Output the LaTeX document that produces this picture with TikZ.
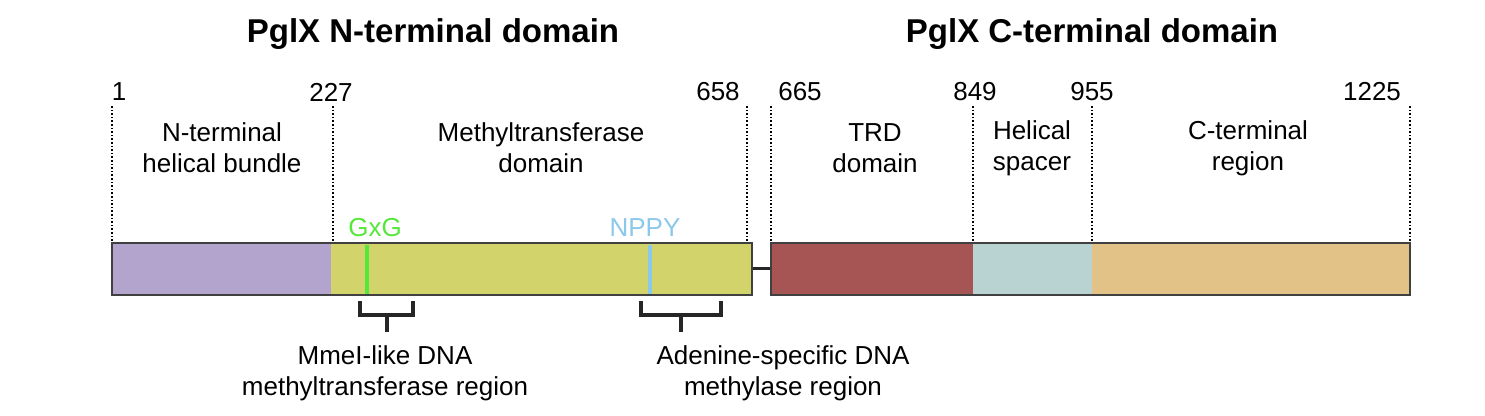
\documentclass[tikz,border=0pt]{standalone}
\usepackage{fontspec}
\setmainfont{Liberation Sans}
\begin{document}
\begin{tikzpicture}[x=1pt,y=-1pt,
  lab/.style={font=\fontsize{26}{31}\selectfont,align=center,inner sep=0pt},
  ttl/.style={font=\bfseries\fontsize{33}{38}\selectfont,inner sep=0pt},
  seg/.style={draw=black!75,line width=1.5pt},
  dsh/.style={dotted,line width=1.6pt},
  brk/.style={line width=3.5pt,black!85}]
\useasboundingbox (0,0) rectangle (1485,415);
\node[ttl] (t1) at (433,34) {PglX N-terminal domain};
\node[ttl] (t2) at (1092,34) {PglX C-terminal domain};
% numbers
\node[lab] (n1) at (119,92) {1};
\node[lab] (n227) at (331,92) {227};
\node[lab] (n658) at (718,92) {658};
\node[lab] (n665) at (800,92) {665};
\node[lab] (n849) at (975,92) {849};
\node[lab] (n955) at (1092,92) {955};
\node[lab] (n1225) at (1372,92) {1225};
% dashed
\foreach \x in {112,333,747,771,973,1092,1410}{\draw[dsh] (\x,106) -- (\x,242);}
% region labels
\node[lab] (r1) at (222,148) {N-terminal\\helical bundle};
\node[lab] (r2) at (541,148) {Methyltransferase\\domain};
\node[lab] (r3) at (875,148) {TRD\\domain};
\node[lab] (r4) at (1032,148) {Helical\\spacer};
\node[lab] (r5) at (1248,148) {C-terminal\\region};
% linker
\draw[line width=3pt,black!85] (752,268) -- (771,268);
% bars
\fill[fill={rgb,255:red,179;green,164;blue,206}] (112,243) rectangle (331,295);
\fill[fill={rgb,255:red,211;green,211;blue,108}] (331,243) rectangle (752,295);
\draw[seg] (112,243) rectangle (752,295);
\fill[fill={rgb,255:red,166;green,84;blue,84}] (771,243) rectangle (973,295);
\fill[fill={rgb,255:red,185;green,211;blue,211}] (973,243) rectangle (1092,295);
\fill[fill={rgb,255:red,226;green,194;blue,134}] (1092,243) rectangle (1410,295);
\draw[seg] (771,243) rectangle (1410,295);
% motifs
\draw[line width=3.5pt,color={rgb,255:red,85;green,232;blue,58}] (367,244.5) -- (367,293.5);
\draw[line width=3.5pt,color={rgb,255:red,140;green,200;blue,234}] (650,244.5) -- (650,293.5);
\node[lab,text={rgb,255:red,85;green,232;blue,58}] (m1) at (375,228) {GxG};
\node[lab,text={rgb,255:red,140;green,200;blue,234}] (m2) at (645,228) {NPPY};
% brackets
\draw[brk] (360,301) -- (360,315) -- (413,315) -- (413,301);
\draw[brk] (387,315) -- (387,332);
\draw[brk] (641,301) -- (641,315) -- (721,315) -- (721,301);
\draw[brk] (681,315) -- (681,332);
\node[lab] (b1) at (385,373) {MmeI-like DNA\\methyltransferase region};
\node[lab] (b2) at (783,373) {Adenine-specific DNA\\methylase region};
\end{tikzpicture}
\end{document}
